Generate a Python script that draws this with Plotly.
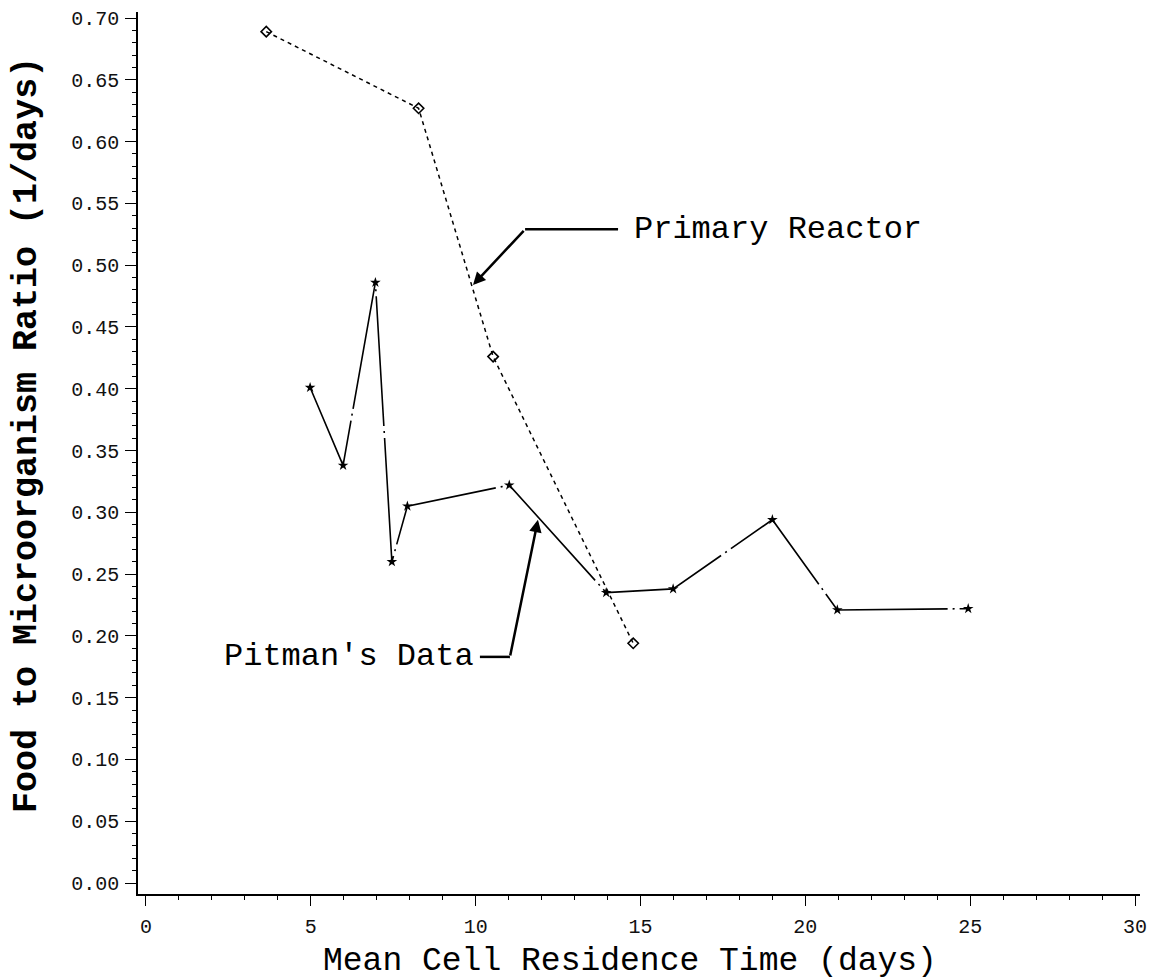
import plotly.graph_objects as go

# ---- data ----
primary_x = [3.65, 8.27, 10.53, 14.78]
primary_y = [0.689, 0.627, 0.426, 0.194]

pitman_x = [4.98, 5.98, 6.96, 7.46, 7.93, 11.02, 13.96, 15.99, 19.0, 20.97, 24.94]
pitman_y = [0.401, 0.338, 0.486, 0.260, 0.305, 0.322, 0.235, 0.238, 0.294, 0.221, 0.222]

x_ticks = [0, 5, 10, 15, 20, 25, 30]
y_ticks = [0.00, 0.05, 0.10, 0.15, 0.20, 0.25, 0.30, 0.35, 0.40, 0.45, 0.50, 0.55, 0.60, 0.65, 0.70]

x_title = "Mean Cell Residence Time (days)"
y_title = "Food to Microorganism Ratio (1/days)"
label_primary = "Primary Reactor"
label_pitman = "Pitman's Data"

MONO = "Liberation Mono, Courier New, monospace"

fig = go.Figure()

fig.add_trace(go.Scatter(
    x=primary_x, y=primary_y, mode="lines+markers", name=label_primary,
    line=dict(color="black", width=1.5, dash="4px,4px"),
    marker=dict(symbol="diamond-open", size=8, color="black", line=dict(width=1.6)),
))

fig.add_trace(go.Scatter(
    x=pitman_x, y=pitman_y, mode="lines+markers", name=label_pitman,
    line=dict(color="black", width=1.6, dash="130px,5px,2px,5px"),
    marker=dict(symbol="star", size=8, color="black"),
))

# annotation leaders (elbow + arrow)
# Primary Reactor
pr_tip = (9.92, 0.484)
pr_elbow = (11.50, 0.529)
pr_end = (14.32, 0.529)
pr_text = (14.75, 0.529)
fig.add_shape(type="line", x0=pr_elbow[0], y0=pr_elbow[1], x1=pr_end[0], y1=pr_end[1],
              line=dict(color="black", width=2.5))
fig.add_annotation(x=pr_tip[0], y=pr_tip[1], ax=pr_elbow[0], ay=pr_elbow[1],
                   axref="x", ayref="y", text="", showarrow=True,
                   arrowhead=2, arrowsize=1.0, arrowwidth=2.5, arrowcolor="black")
fig.add_annotation(x=pr_text[0], y=pr_text[1], text=label_primary, showarrow=False,
                   xanchor="left", yanchor="middle",
                   font=dict(family=MONO, size=32, color="black"))

# Pitman's Data
pd_tip = (11.89, 0.294)
pd_elbow = (11.04, 0.183)
pd_start = (10.13, 0.183)
pd_text = (10.0, 0.183)
fig.add_shape(type="line", x0=pd_start[0], y0=pd_start[1], x1=pd_elbow[0], y1=pd_elbow[1],
              line=dict(color="black", width=2.5))
fig.add_annotation(x=pd_tip[0], y=pd_tip[1], ax=pd_elbow[0], ay=pd_elbow[1],
                   axref="x", ayref="y", text="", showarrow=True,
                   arrowhead=2, arrowsize=1.0, arrowwidth=2.5, arrowcolor="black")
fig.add_annotation(x=pd_text[0], y=pd_text[1], text=label_pitman, showarrow=False,
                   xanchor="right", yanchor="middle",
                   font=dict(family=MONO, size=32, color="black"))

# axis titles (as paper-positioned annotations)
fig.add_annotation(x=0.491, y=-0.077, xref="paper", yref="paper", text=x_title,
                   showarrow=False, xanchor="center", yanchor="middle",
                   font=dict(family=MONO, size=33, color="black"))
fig.add_annotation(x=-0.1108, y=0.5204, xref="paper", yref="paper", text="<b>" + y_title + "</b>",
                   showarrow=False, xanchor="center", yanchor="middle", textangle=-90,
                   font=dict(family=MONO, size=35, color="black"))

fig.update_layout(
    width=1152, height=980,
    margin=dict(l=138, r=12, t=12, b=86),
    paper_bgcolor="white", plot_bgcolor="white",
    showlegend=False,
)

fig.update_xaxes(
    range=[-0.24, 30.15], tickvals=x_ticks, ticktext=[str(v) for v in x_ticks],
    showgrid=False, zeroline=False, showline=True, linecolor="black", linewidth=1.6,
    ticks="outside", ticklen=10, tickwidth=1.4, tickcolor="black",
    minor=dict(dtick=1, ticks="outside", ticklen=4, tickwidth=1.2, tickcolor="black", showgrid=False),
    tickfont=dict(family=MONO, size=20, color="#111"),
    ticklabelstandoff=3,
    automargin=False,
)

fig.update_yaxes(
    range=[-0.0089, 0.7049], tickvals=y_ticks, ticktext=[f"{v:.2f}" for v in y_ticks],
    showgrid=False, zeroline=False, showline=True, linecolor="black", linewidth=1.6,
    ticks="outside", ticklen=11, tickwidth=1.4, tickcolor="black",
    minor=dict(dtick=0.01, ticks="outside", ticklen=4, tickwidth=1.2, tickcolor="black", showgrid=False),
    tickfont=dict(family=MONO, size=20, color="#111"),
    ticklabelstandoff=2,
    automargin=False,
)

fig.write_html("out.html")
